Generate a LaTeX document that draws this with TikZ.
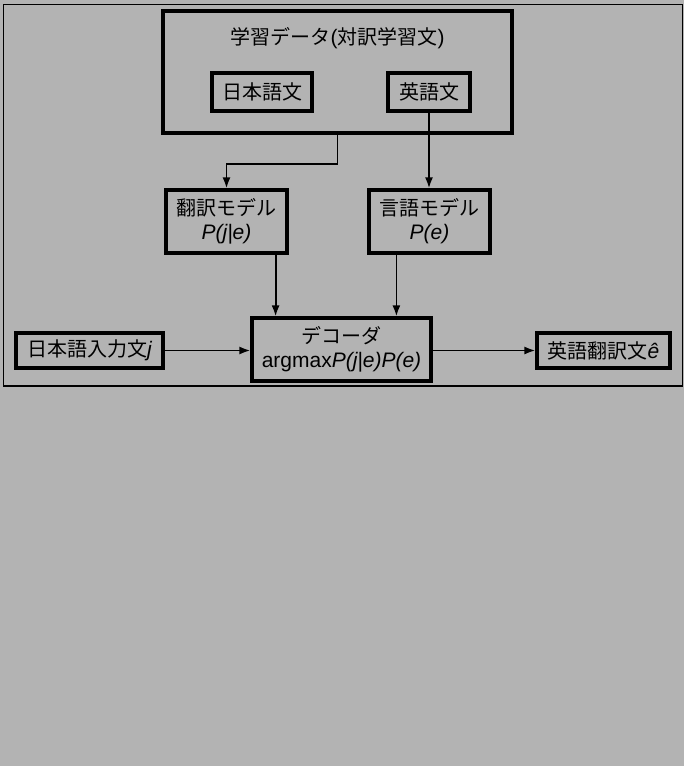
\documentclass[tikz,border=0pt]{standalone}
\usepackage{fontspec}
\setmainfont{Noto Sans CJK JP}
\newfontfamily\latinf{Liberation Sans}[Scale=1.05]
\usetikzlibrary{arrows.meta,calc}
\definecolor{bg}{HTML}{B3B3B3}
\newcommand{\lt}[1]{{\latinf #1}}
\newcommand{\li}[1]{{\latinf\itshape #1}}
\begin{document}
\begin{tikzpicture}[x=1pt,y=-1pt,
  every node/.style={font=\fontsize{20}{24}\selectfont, inner sep=0pt},
  box/.style={draw, line width=3.2pt, align=center},
  arr/.style={line width=1.8pt, -{Latex[length=11pt,width=8pt]}}]
\fill[bg] (0,0) rectangle (684,766);
\useasboundingbox (0,0) rectangle (684,766);
\draw[line width=1.1pt] (3.5,4.5) rectangle (682.5,386);
\node[box, minimum width=349, minimum height=122] (train) at (337.5,72) {};
\node (title) at (337.5,38) {学習データ\lt{(}対訳学習文\lt{)}};
\node[box, minimum width=100, minimum height=38] (jbun) at (262,92) {日本語文};
\node[box, minimum width=82, minimum height=38] (ebun) at (429,92) {英語文};
\node[box, minimum width=121, minimum height=63] (tm) at (226.5,221.5) {翻訳モデル\\[0pt]\li{P(j|e)}};
\node[box, minimum width=121, minimum height=63] (lm) at (429.5,221.5) {言語モデル\\[0pt]\li{P(e)}};
\node[box, minimum width=179, minimum height=63] (dec) at (341.5,349.5) {デコーダ\\[0pt]\lt{argmax}\li{P(j|e)P(e)}};
\node[box, minimum width=147, minimum height=35] (jin) at (89.5,350.5) {日本語入力文\li{j}};
\node[box, minimum width=133, minimum height=35] (eout) at (603.5,350.5) {英語翻訳文\li{ê}};
\draw[arr] (train.south) -- ++(0,29) -| (tm.north);
\draw[arr] (ebun.south) -- (ebun.south |- lm.north);
\coordinate (t1) at ([xshift=-13pt]tm.south east);
\coordinate (l1) at ([xshift=29pt]lm.south west);
\draw[arr] (t1) -- (t1 |- dec.north);
\draw[arr] (l1) -- (l1 |- dec.north);
\draw[arr] (jin.east) -- (jin.east -| dec.west);
\draw[arr] (eout.west -| dec.east) -- (eout.west);
\end{tikzpicture}
\end{document}
